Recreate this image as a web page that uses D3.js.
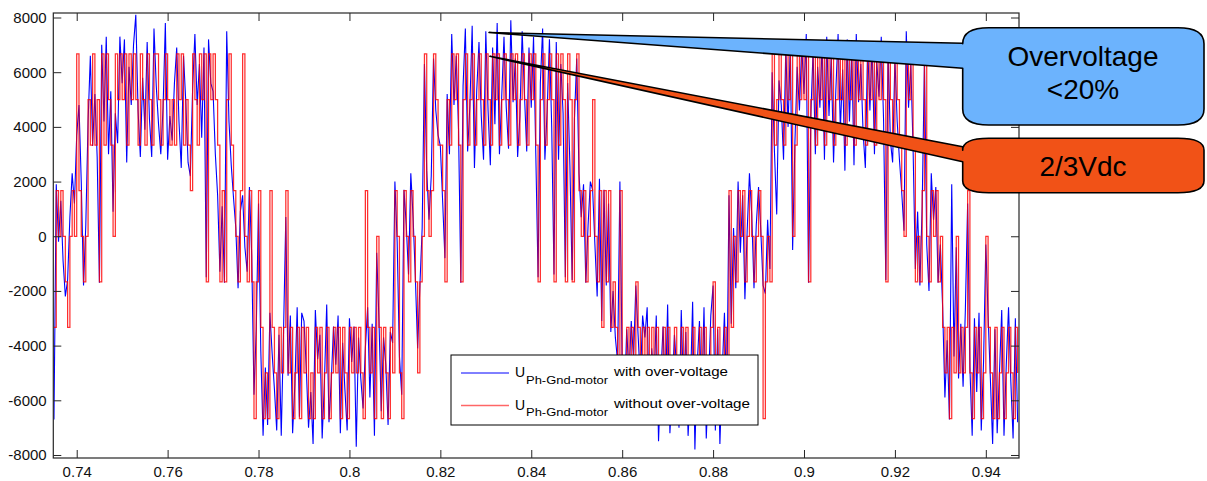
<!DOCTYPE html>
<html>
<head>
<meta charset="utf-8">
<script src="https://cdn.jsdelivr.net/npm/d3@7"></script>
<style>
	body { margin: 0; background: #fff; }
	text { font-family: "Liberation Sans", Arial, sans-serif; }
</style>
</head>
<body>
<svg id="chart" width="1207" height="481"></svg>
<script>

// sample clock of the recording
const t0 = 0.735;
const dt = 0.0005;

// phase-to-ground voltage without over-voltage (V), one value per sample
const redVolts = [
	-3333, 1667, 0, 1667, 0, -1667, -3333, 0, 1667, 0,
	6667, 1667, 0, -1667, 0, 5000, 3333, 6667, 3333, 5000,
	-1667, 6667, 3333, 6667, 5000, 3333, 0, 6667, 5000, 6667,
	5000, 6667, 3333, 6667, 5000, 6667, 5000, 3333, 6667, 5000,
	3333, 6667, 5000, 3333, 6667, 6667, 5000, 3333, 5000, 6667,
	5000, 3333, 5000, 3333, 6667, 5000, 6667, 3333, 5000, 3333,
	1667, 6667, 5000, 3333, 6667, 5000, 6667, -1667, 6667, 5000,
	6667, 5000, 3333, -1667, 1667, -1667, 5000, 6667, 3333, 1667,
	0, -1667, 1667, 6667, 0, -1667, 1667, -1667, -6667, -1667,
	1667, -3333, -6667, -5000, -6667, 1667, -3333, -5000, -6667, -3333,
	-5000, -3333, 1667, -5000, -3333, -6667, -5000, -3333, -6667, -3333,
	-5000, -3333, -6667, -5000, -6667, -3333, -5000, -3333, -6667, -5000,
	-3333, -6667, -5000, -3333, -5000, -3333, -6667, -3333, -5000, -6667,
	-3333, -5000, -3333, -5000, -3333, -5000, -6667, 1667, -3333, -5000,
	-3333, -6667, 0, -3333, -6667, -3333, -5000, -6667, -3333, -5000,
	1667, 0, -5000, -6667, 1667, 0, -1667, 1667, 0, -1667,
	-5000, -1667, 0, 6667, 1667, 0, 1667, 6667, 5000, 3333,
	3333, 1667, -1667, 5000, 3333, 6667, 5000, 6667, 3333, -1667,
	5000, 6667, 3333, 5000, 6667, 3333, 5000, 6667, 5000, 3333,
	6667, 5000, 3333, 6667, 5000, 6667, 3333, 5000, 6667, 5000,
	3333, 6667, 5000, 6667, 3333, 5000, 6667, 5000, 3333, 6667,
	5000, 6667, 3333, -1667, 5000, 6667, 3333, 5000, 6667, 5000,
	-1667, 6667, 3333, 6667, 5000, -1667, 6667, 5000, -1667, 5000,
	6667, 1667, 0, 1667, -1667, 0, 1667, 5000, 0, -1667,
	1667, -3333, 1667, -1667, 1667, -3333, -1667, -3333, -5000, 1667,
	-5000, -6667, -3333, -5000, -3333, -5000, -1667, -3333, -5000, -3333,
	-5000, -3333, -6667, -3333, -5000, -3333, -6667, -5000, -3333, -5000,
	-3333, -6667, -5000, -3333, -5000, -6667, -3333, -5000, -3333, -6667,
	-5000, -3333, -6667, -5000, -3333, -5000, -3333, -6667, -5000, -3333,
	-1667, -5000, -3333, -6667, -5000, -3333, -5000, 1667, -3333, 0,
	-1667, 1667, 0, 1667, -1667, 0, 1667, 0, -1667, 0,
	1667, 0, -6667, -1667, 0, -1667, 6667, 3333, 5000, 6667,
	5000, 3333, 6667, 5000, 6667, 0, 3333, 6667, 5000, 6667,
	5000, 6667, -1667, 5000, 6667, 3333, 6667, 5000, 6667, 3333,
	6667, 5000, 6667, 3333, 5000, 6667, 5000, 6667, 3333, 6667,
	5000, 6667, 3333, 6667, 5000, 6667, 5000, 3333, 6667, 5000,
	6667, 3333, 6667, 5000, 6667, 5000, -1667, 6667, 5000, 3333,
	6667, 5000, 3333, 1667, 0, 6667, 5000, 6667, 3333, -1667,
	0, -1667, 1667, 6667, 0, -1667, 1667, 0, 1667, -1667,
	0, -3333, -5000, -3333, -6667, -3333, -5000, 0, -5000, -3333,
	-5000, -3333, 1667, -5000, -6667, -3333, -5000, -3333, -6667, -5000,
	0, -3333, -5000, -6667, -3333, -6667, -5000, -3333, -6667, -5000,
	-3333, -5000, -6667, -3333, -5000
];

// phase-to-ground voltage with over-voltage (V), same samples
const blueVolts = [
	-6700, 1900, -200, 1300, -900, -2200, -1600, 700, 2300, 1200,
	3700, 4800, 2000, -1800, 400, 4200, 6600, 3300, 5200, 2900,
	-1700, 7000, 4200, 7300, 3000, 5300, 900, 4500, 3400, 7300,
	5600, 7200, 2700, 6200, 4800, 7000, 8100, 4600, 2900, 5800,
	3900, 7100, 4300, 2900, 7600, 5500, 4100, 3000, 4700, 7800,
	2800, 4400, 3500, 5600, 6900, 4200, 2500, 6600, 4900, 2700,
	2200, 5400, 7400, 4800, 6300, 3600, 6900, -1500, 7200, 5600,
	5300, 3000, 1500, -1300, 1100, -1700, 7500, 4200, 2600, 1400,
	300, -1900, 900, 1500, -400, -1300, 1800, -700, -5800, -3400,
	1200, -4200, -7300, -4800, -6900, -2800, -4300, -5600, -7100, -3600,
	-7300, -3500, 700, -5100, -2900, -7200, -5400, -2600, -6600, -2800,
	-3100, -4800, -7000, -5700, -7600, -2700, -4500, -3600, -7400, -5300,
	-2500, -6800, -5300, -3300, -4700, -2900, -7200, -3900, -5600, -7100,
	-3000, -4600, -3300, -7700, -3700, -5200, -6300, -4100, -2600, -5900,
	-3200, -7300, -600, -3100, -6400, -3700, -4700, -6900, -3500, -3900,
	2000, -200, -4400, -5800, 1700, 400, -1400, 2300, 700, -1500,
	-4100, -1800, 300, 6300, 2400, 600, 2200, 6500, 4600, 3700,
	3300, 1300, -800, 5200, 3000, 7400, 4800, 6600, 3900, -1700,
	5500, 7600, 3100, 4800, 7700, 2500, 5300, 7100, 4400, 2800,
	7500, 4600, 2600, 6900, 4100, 7800, 3000, 5100, 7300, 4700,
	3200, 7900, 4900, 6500, 2900, 4400, 7500, 5200, 3100, 6900,
	4700, 7300, 3000, -1500, 5600, 7600, 2800, 4600, 7200, 4000,
	-1400, 7100, 2800, 6300, 4500, -1500, 5600, 2600, -1600, 4300,
	6500, 2300, 700, 1900, -1700, 400, 2000, 1700, -300, -2200,
	2100, -3100, 1700, -1800, 1200, -3500, -2000, -3700, -4600, 2000,
	-4700, -6000, -3400, -5100, -3100, -4500, -1800, -3600, -5300, -2900,
	-3700, -2600, -6900, -4100, -5400, -2900, -7500, -5100, -3300, -6000,
	-2500, -7200, -5600, -3600, -4900, -7000, -2700, -5800, -3500, -7300,
	-5600, -2400, -7800, -4700, -3100, -6100, -2600, -7400, -5300, -2900,
	-1800, -7100, -3400, -7600, -5000, -2800, -6200, 1500, -3200, 300,
	-1900, 2000, -600, 1500, -2300, 200, 2300, 800, -1900, 400,
	1800, 200, -1800, -2100, 600, -1200, 6000, 3100, 800, 5700,
	4800, 2800, 6900, 4000, 7100, -500, 3400, 6200, 4600, 7000,
	5200, 7400, -1700, 4400, 6800, 3000, 6200, 4700, 7100, 2800,
	7300, 4400, 6600, 2700, 5300, 7400, 3900, 6100, 2400, 7200,
	4200, 6800, 2600, 7400, 4900, 6300, 3800, 2500, 7000, 4600,
	7100, 3000, 6400, 5100, 7300, 4300, -1600, 6900, 3500, 2700,
	6500, 4200, 2800, 1600, 200, 7500, 4700, 6300, 3200, -1200,
	900, -1800, 1100, 6400, -300, -2000, 2300, 600, 1800, -1700,
	-300, -2600, -5900, -3800, -6700, 1900, -4400, -400, -5200, -3200,
	-5500, -2700, 1200, -4800, -7300, -3000, -5700, -2800, -7100, -4600,
	-300, -2900, -5200, -7600, -3400, -7200, -5000, -2700, -7300, -4700,
	-2600, -5300, -7400, -3000, -6800
];

const xTicks = [0.74, 0.76, 0.78, 0.80, 0.82, 0.84, 0.86, 0.88, 0.90, 0.92, 0.94];
const xTickLabels = ["0.74", "0.76", "0.78", "0.8", "0.82", "0.84", "0.86", "0.88", "0.9", "0.92", "0.94"];
const yTicks = [-8000, -6000, -4000, -2000, 0, 2000, 4000, 6000, 8000];
const yTickLabels = ["-8000", "-6000", "-4000", "-2000", "0", "2000", "4000", "6000", "8000"];

const seriesNames = ["with over-voltage", "without over-voltage"];

// where the callouts point, in data units
const overTip = [0.8307, 7450];
const vdcTip = [0.8309, 6580];

const plotLeft = 53.3, plotRight = 1019, plotTop = 13, plotBottom = 458;

const sx = d3.scaleLinear()
	.domain([0.73485, 0.9473])
	.range([plotLeft, plotRight]);

const sy = d3.scaleLinear()
	.domain([-8110, 8165])
	.range([plotBottom, plotTop]);

const times = redVolts.map((d, i) => t0 + i * dt);
const red = redVolts.map((v, i) => [times[i], v]);
const blue = blueVolts.map((v, i) => [times[i], v]);

const svg = d3.select("#chart");

svg.append("defs").append("clipPath")
	.attr("id", "plotclip")
	.append("rect")
	.attr("x", plotLeft)
	.attr("y", plotTop)
	.attr("width", plotRight - plotLeft)
	.attr("height", plotBottom - plotTop);

const plot = svg.append("g").attr("clip-path", "url(#plotclip)");

const blueLine = d3.line()
	.x(d => sx(d[0]))
	.y(d => sy(d[1]));

const redLine = d3.line()
	.curve(d3.curveStepAfter)
	.x(d => sx(d[0]))
	.y(d => sy(d[1]));

plot.append("path")
	.datum(blue)
	.attr("fill", "none")
	.attr("stroke", "#0000ff")
	.attr("stroke-width", 1.1)
	.attr("d", blueLine);

plot.append("path")
	.datum(red)
	.attr("fill", "none")
	.attr("stroke", "#ff0000")
	.attr("stroke-opacity", 0.82)
	.attr("stroke-width", 1.25)
	.attr("d", redLine);

// axes, ticks pointing inwards on all four sides
const axisColor = "#262626";

const xAxis = d3.axisBottom(sx)
	.tickValues(xTicks)
	.tickFormat((d, i) => xTickLabels[i])
	.tickSizeInner(-8)
	.tickSizeOuter(0)
	.tickPadding(8);

const yAxis = d3.axisLeft(sy)
	.tickValues(yTicks)
	.tickFormat((d, i) => yTickLabels[i])
	.tickSizeInner(-8)
	.tickSizeOuter(0)
	.tickPadding(6.6);

svg.append("g")
	.attr("transform", `translate(0,${plotBottom})`)
	.call(xAxis);

svg.append("g")
	.attr("transform", `translate(${plotLeft},0)`)
	.call(yAxis);

svg.append("g")
	.attr("transform", `translate(0,${plotTop})`)
	.call(d3.axisTop(sx).tickValues(xTicks).tickFormat("").tickSizeInner(-8).tickSizeOuter(0));

svg.append("g")
	.attr("transform", `translate(${plotRight},0)`)
	.call(d3.axisRight(sy).tickValues(yTicks).tickFormat("").tickSizeInner(-8).tickSizeOuter(0));

svg.selectAll(".domain").remove();
svg.selectAll(".tick line").attr("stroke", axisColor);
svg.selectAll(".tick text")
	.attr("fill", "#111")
	.style("font-size", "15px")
	.style("font-family", "\"Liberation Sans\", Arial, sans-serif");

svg.append("rect")
	.attr("x", plotLeft)
	.attr("y", plotTop)
	.attr("width", plotRight - plotLeft)
	.attr("height", plotBottom - plotTop)
	.attr("fill", "none")
	.attr("stroke", axisColor)
	.attr("stroke-width", 1.2);

// legend
const legend = svg.append("g").attr("transform", "translate(451,355)");

legend.append("rect")
	.attr("width", 307)
	.attr("height", 70)
	.attr("fill", "#fff")
	.attr("stroke", "#000")
	.attr("stroke-width", 1);

const legendRows = [
	{name: seriesNames[0], color: "#0000ff", opacity: 1, y: 18, w: 114},
	{name: seriesNames[1], color: "#ff0000", opacity: 0.6, y: 50.5, w: 136}
];

legendRows.forEach(r => {
	legend.append("line")
		.attr("x1", 10).attr("x2", 58)
		.attr("y1", r.y).attr("y2", r.y)
		.attr("stroke", r.color)
		.attr("stroke-opacity", r.opacity)
		.attr("stroke-width", r.opacity < 1 ? 1.6 : 1);

	legend.append("text")
		.attr("x", 64).attr("y", r.y + 4)
		.style("font-size", "14px")
		.text("U");

	legend.append("text")
		.attr("x", 75).attr("y", r.y + 10.5)
		.attr("textLength", 82)
		.attr("lengthAdjust", "spacingAndGlyphs")
		.style("font-size", "10.5px")
		.text("Ph-Gnd-motor");

	legend.append("text")
		.attr("x", 163).attr("y", r.y + 2.5)
		.attr("textLength", r.w)
		.attr("lengthAdjust", "spacingAndGlyphs")
		.style("font-size", "13.5px")
		.text(r.name);
});

// callouts
function calloutPath(b, tip) {
	const {x0, y0, x1, y1, rx, ry, a, c} = b;
	return `M${tip[0]},${tip[1]} L${x0},${a} L${x0},${y0 + ry} Q${x0},${y0} ${x0 + rx},${y0} ` +
		`L${x1 - rx},${y0} Q${x1},${y0} ${x1},${y0 + ry} L${x1},${y1 - ry} Q${x1},${y1} ${x1 - rx},${y1} ` +
		`L${x0 + rx},${y1} Q${x0},${y1} ${x0},${y1 - ry} L${x0},${c} Z`;
}

const callouts = [
	{
		box: {x0: 962.7, y0: 27.7, x1: 1204, y1: 125, rx: 26, ry: 16, a: 43.3, c: 68.3},
		tip: overTip, fill: "#6cb3fd",
		lines: [["Overvoltage", 65.7], ["<20%", 99]]
	},
	{
		box: {x0: 962.7, y0: 138.3, x1: 1204, y1: 192.7, rx: 26, ry: 12, a: 146.7, c: 161.7},
		tip: vdcTip, fill: "#f15217",
		lines: [["2/3Vdc", 175.7]]
	}
];

callouts.forEach(co => {
	const tip = [sx(co.tip[0]), sy(co.tip[1])];
	svg.append("path")
		.attr("d", calloutPath(co.box, tip))
		.attr("fill", co.fill)
		.attr("stroke", "#000")
		.attr("stroke-width", 1.6)
		.attr("stroke-linejoin", "round");

	co.lines.forEach(l => {
		svg.append("text")
			.attr("x", 1083)
			.attr("y", l[1])
			.attr("text-anchor", "middle")
			.style("font-size", "28px")
			.attr("fill", "#000")
			.text(l[0]);
	});
});

</script>
</body>
</html>
